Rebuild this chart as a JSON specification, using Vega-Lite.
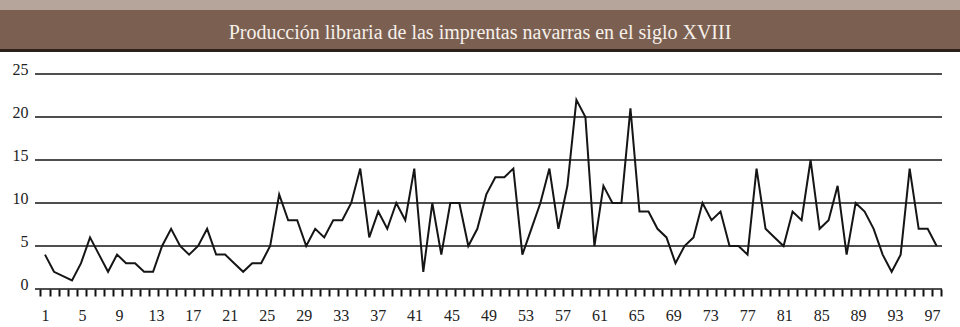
{
  "$schema": "https://vega.github.io/schema/vega-lite/v6.json",
  "padding": 0,
  "spacing": 0,
  "background": "white",
  "config": {"view": {"stroke": null}},
  "vconcat": [
    {
      "width": 960, "height": 10,
      "view": {"fill": "#b6a59b", "stroke": null},
      "data": {"values": []},
      "mark": {"type": "rect", "opacity": 0},
      "encoding": {}
    },
    {
      "width": 960, "height": 39,
      "view": {"fill": "#7b6052", "stroke": null},
      "data": {"values": [{"title": "Producción libraria de las imprentas navarras en el siglo XVIII"}]},
      "mark": {"type": "text", "font": "Liberation Serif", "fontSize": 20, "color": "#f6f0ea", "dy": 3},
      "encoding": {"text": {"field": "title", "type": "nominal"}}
    },
    {
      "width": 960, "height": 3,
      "view": {"fill": "#2d201a", "stroke": null},
      "data": {"values": []},
      "mark": {"type": "rect", "opacity": 0},
      "encoding": {}
    },
    {
      "width": 942, "height": 237,
      "layer": [
        {
          "data": {"values": [{"level": 0}, {"level": 5}, {"level": 10}, {"level": 15}, {"level": 20}, {"level": 25}]},
          "mark": {"type": "rule", "color": "#151515", "strokeWidth": 1.6},
          "encoding": {
            "x": {
              "datum": -0.082, "type": "quantitative",
              "scale": {"domain": [-3.87, 98.08], "nice": false, "zero": false},
              "axis": {
                "orient": "bottom", "title": null,
                "values": [1,5,9,13,17,21,25,29,33,37,41,45,49,53,57,61,65,69,73,77,81,85,89,93,97],
                "ticks": false, "domain": false, "grid": false,
                "labelFont": "Liberation Serif", "labelFontSize": 16, "labelColor": "#222", "labelPadding": 18
              }
            },
            "x2": {"datum": 98.08},
            "y": {
              "field": "level", "type": "quantitative",
              "scale": {"domain": [0, 27.56], "nice": false, "zero": true},
              "axis": {
                "title": null, "offset": -35,
                "values": [0, 5, 10, 15, 20, 25],
                "grid": false, "ticks": false, "domain": false,
                "labelFont": "Liberation Serif", "labelFontSize": 16, "labelColor": "#222",
                "labelPadding": 7, "labelOffset": -5
              }
            }
          }
        },
        {
          "data": {"values": [
            {"year":1,"count":4},{"year":2,"count":2},{"year":3,"count":1.5},{"year":4,"count":1},{"year":5,"count":3},
            {"year":6,"count":6},{"year":7,"count":4},{"year":8,"count":2},{"year":9,"count":4},{"year":10,"count":3},
            {"year":11,"count":3},{"year":12,"count":2},{"year":13,"count":2},{"year":14,"count":5},{"year":15,"count":7},
            {"year":16,"count":5},{"year":17,"count":4},{"year":18,"count":5},{"year":19,"count":7},{"year":20,"count":4},
            {"year":21,"count":4},{"year":22,"count":3},{"year":23,"count":2},{"year":24,"count":3},{"year":25,"count":3},
            {"year":26,"count":5},{"year":27,"count":11},{"year":28,"count":8},{"year":29,"count":8},{"year":30,"count":5},
            {"year":31,"count":7},{"year":32,"count":6},{"year":33,"count":8},{"year":34,"count":8},{"year":35,"count":10},
            {"year":36,"count":14},{"year":37,"count":6},{"year":38,"count":9},{"year":39,"count":7},{"year":40,"count":10},
            {"year":41,"count":8},{"year":42,"count":14},{"year":43,"count":2},{"year":44,"count":10},{"year":45,"count":4},
            {"year":46,"count":10},{"year":47,"count":10},{"year":48,"count":5},{"year":49,"count":7},{"year":50,"count":11},
            {"year":51,"count":13},{"year":52,"count":13},{"year":53,"count":14},{"year":54,"count":4},{"year":55,"count":7},
            {"year":56,"count":10},{"year":57,"count":14},{"year":58,"count":7},{"year":59,"count":12},{"year":60,"count":22},
            {"year":61,"count":20},{"year":62,"count":5},{"year":63,"count":12},{"year":64,"count":10},{"year":65,"count":10},
            {"year":66,"count":21},{"year":67,"count":9},{"year":68,"count":9},{"year":69,"count":7},{"year":70,"count":6},
            {"year":71,"count":3},{"year":72,"count":5},{"year":73,"count":6},{"year":74,"count":10},{"year":75,"count":8},
            {"year":76,"count":9},{"year":77,"count":5},{"year":78,"count":5},{"year":79,"count":4},{"year":80,"count":14},
            {"year":81,"count":7},{"year":82,"count":6},{"year":83,"count":5},{"year":84,"count":9},{"year":85,"count":8},
            {"year":86,"count":15},{"year":87,"count":7},{"year":88,"count":8},{"year":89,"count":12},{"year":90,"count":4},
            {"year":91,"count":10},{"year":92,"count":9},{"year":93,"count":7},{"year":94,"count":4},{"year":95,"count":2},
            {"year":96,"count":4},{"year":97,"count":14},{"year":98,"count":7},{"year":99,"count":7},{"year":100,"count":5}
          ]},
          "mark": {"type": "line", "color": "#151515", "strokeWidth": 2, "strokeJoin": "miter"},
          "encoding": {
            "x": {
              "field": "year", "type": "quantitative",
              "scale": {"domain": [-3.996, 100.59], "nice": false, "zero": false},
              "axis": {
                "orient": "bottom", "title": null, "labels": false, "domain": false, "grid": false,
                "ticks": true, "tickSize": 7, "tickWidth": 2, "tickColor": "#111", "tickOpacity": 1, "tickRound": true,
                "values": [0.5,1.5,2.5,3.5,4.5,5.5,6.5,7.5,8.5,9.5,10.5,11.5,12.5,13.5,14.5,15.5,16.5,17.5,18.5,19.5,20.5,21.5,22.5,23.5,24.5,25.5,26.5,27.5,28.5,29.5,30.5,31.5,32.5,33.5,34.5,35.5,36.5,37.5,38.5,39.5,40.5,41.5,42.5,43.5,44.5,45.5,46.5,47.5,48.5,49.5,50.5,51.5,52.5,53.5,54.5,55.5,56.5,57.5,58.5,59.5,60.5,61.5,62.5,63.5,64.5,65.5,66.5,67.5,68.5,69.5,70.5,71.5,72.5,73.5,74.5,75.5,76.5,77.5,78.5,79.5,80.5,81.5,82.5,83.5,84.5,85.5,86.5,87.5,88.5,89.5,90.5,91.5,92.5,93.5,94.5,95.5,96.5,97.5,98.5,99.5,100.5]
              }
            },
            "y": {
              "field": "count", "type": "quantitative",
              "scale": {"domain": [0, 27.56], "nice": false, "zero": true}
            }
          }
        }
      ],
      "resolve": {"scale": {"x": "independent"}}
    }
  ]
}
